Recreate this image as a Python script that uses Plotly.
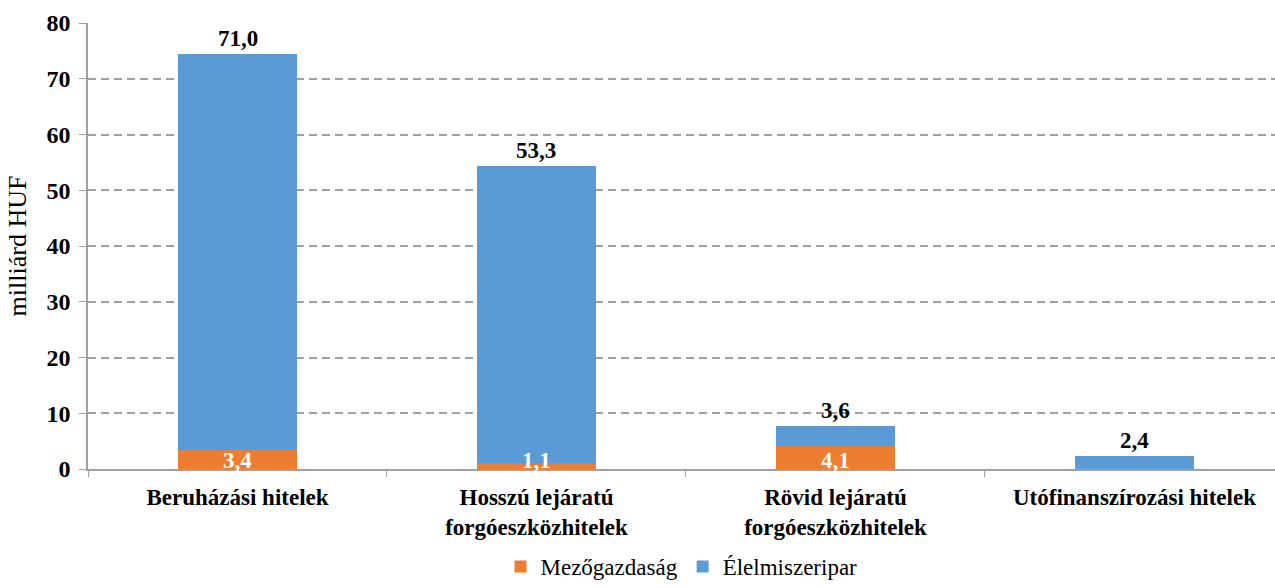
import plotly.graph_objects as go

categories = ["Beruházási hitelek", "Hosszú lejáratú<br>forgóeszközhitelek",
              "Rövid lejáratú<br>forgóeszközhitelek", "Utófinanszírozási hitelek"]
mezogazdasag = [3.4, 1.1, 4.1, None]
elelmiszeripar = [71.0, 53.3, 3.6, 2.4]
y_ticks = [0, 10, 20, 30, 40, 50, 60, 70, 80]

font = "Liberation Serif"
orange = "#ED7D31"
blue = "#5B9BD5"
grey = "#A0A0A0"


def hu(v):
    return ("%.1f" % v).replace(".", ",")


fig = go.Figure()
fig.add_trace(go.Bar(x=categories, y=mezogazdasag, name="Mezőgazdaság",
                     marker=dict(color=orange, line=dict(width=0))))
fig.add_trace(go.Bar(x=categories, y=elelmiszeripar, name="Élelmiszeripar",
                     marker=dict(color=blue, line=dict(width=0))))

# labels: orange values inside near the bottom, blue values above the stack
for cat, m, e in zip(categories, mezogazdasag, elelmiszeripar):
    if m:
        fig.add_annotation(x=cat, y=0, text=hu(m), showarrow=False,
                           yanchor="middle", yshift=9,
                           font=dict(family=font, size=23, color="white", weight="bold"))
    total = (m or 0) + e
    fig.add_annotation(x=cat, y=total, text=hu(e), showarrow=False,
                       yanchor="bottom", yshift=1,
                       font=dict(family=font, size=23, color="black", weight="bold"))

fig.update_layout(
    barmode="stack",
    bargap=0.6,
    width=1275, height=588,
    margin=dict(l=88, r=0, t=23, b=119),
    plot_bgcolor="white", paper_bgcolor="white",
    font=dict(family=font, size=22, color="black"),
    legend=dict(orientation="h", x=0.5, xanchor="center", xref="paper",
                y=-0.015, yanchor="bottom", yref="container",
                font=dict(family=font, size=23),
                itemwidth=30, traceorder="normal"),
)
# the original chart runs a little past the right edge of the picture
fig.update_xaxes(
    automargin=False,
    range=[-0.5, 3.47],
    showline=True, linecolor=grey, linewidth=1.5,
    ticks="outside", tickson="boundaries", ticklen=6, tickcolor=grey,
    ticklabelstandoff=7,
    tickfont=dict(family=font, size=23, color="black", weight="bold"),
)
fig.update_yaxes(
    automargin=False,
    range=[0, 80], tickvals=y_ticks,
    showline=True, linecolor=grey, linewidth=1.5,
    ticks="outside", ticklen=7, tickcolor=grey,
    ticklabelstandoff=4,
    showgrid=True, gridcolor=grey, griddash="8px,5px", gridwidth=1.5,
    zeroline=False,
    tickfont=dict(family=font, size=24, color="black", weight="bold"),
    title=dict(text="milliárd HUF", font=dict(family=font, size=26), standoff=12),
)

# drop the default body margin so the figure fills the window
fig.write_html("out.html", config={"displayModeBar": False},
               post_script="document.body.style.margin='0';")
